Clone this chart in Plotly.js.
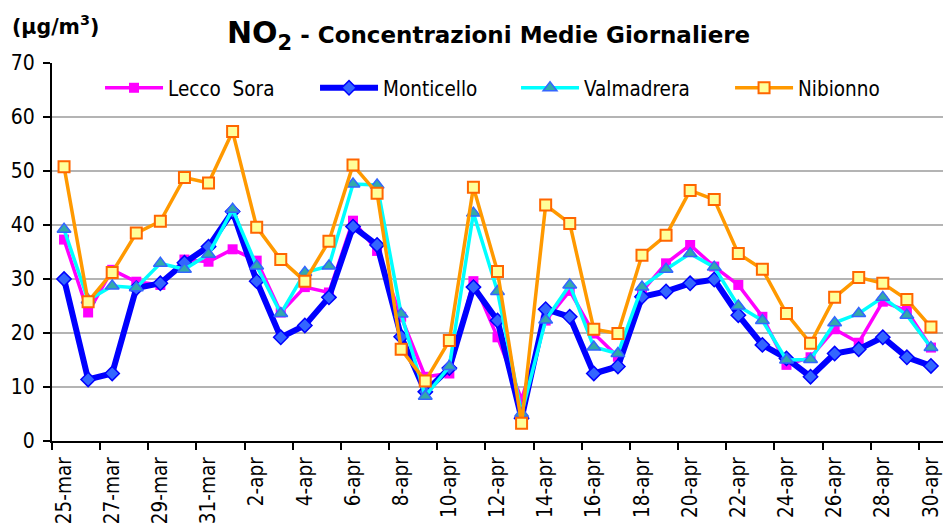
<!DOCTYPE html>
<html>
<head>
<meta charset="utf-8">
<script src="https://cdn.plot.ly/plotly-3.0.1.min.js"></script>
<style>html,body{margin:0;padding:0;background:#fff;}#chart{width:943px;height:525px;}</style>
</head>
<body>
<div id="chart"></div>
<script>
const days = ["25-mar","26-mar","27-mar","28-mar","29-mar","30-mar","31-mar","1-apr","2-apr","3-apr","4-apr","5-apr","6-apr","7-apr","8-apr","9-apr","10-apr","11-apr","12-apr","13-apr","14-apr","15-apr","16-apr","17-apr","18-apr","19-apr","20-apr","21-apr","22-apr","23-apr","24-apr","25-apr","26-apr","27-apr","28-apr","29-apr","30-apr"];
const leccoSora = [37.3,23.8,31.7,29.5,28.9,33.6,33.2,35.5,33.4,23.8,28.5,27.5,40.8,35.2,23.0,11.9,12.5,29.6,19.2,7.7,22.3,27.8,19.9,15.6,27.7,32.9,36.3,32.3,28.9,23.0,14.1,15.5,20.7,18.2,25.8,24.1,17.3];
const monticello = [30.0,11.4,12.5,28.3,29.2,33.0,36.0,42.5,29.6,19.2,21.4,26.6,39.7,36.3,19.3,9.1,13.5,28.5,22.3,4.2,24.4,23.0,12.5,13.8,26.7,27.7,29.2,29.9,23.3,17.8,15.3,11.9,16.2,17.0,19.2,15.5,13.9];
const valmadrera = [39.2,26.1,28.7,28.4,32.9,31.8,34.6,42.9,32.4,23.6,31.2,32.4,47.6,47.4,23.5,8.3,13.8,42.2,27.7,5.1,22.4,28.9,17.4,16.2,28.5,31.8,34.7,32.2,25.0,22.3,15.0,15.1,21.9,23.6,26.6,23.3,17.3];
const nibionno = [50.8,25.8,31.2,38.5,40.7,48.8,47.8,57.3,39.6,33.6,29.6,37.0,51.1,45.9,17.0,11.1,18.6,47.0,31.4,3.3,43.7,40.3,20.7,19.9,34.4,38.1,46.4,44.7,34.7,31.8,23.6,18.1,26.6,30.3,29.2,26.2,21.1];

const FONT = "DejaVu Sans Condensed, DejaVu Sans, sans-serif";
const FONT_BOLD = "DejaVu Sans, sans-serif";

const traces = [
  {name: "Lecco  Sora", x: days, y: leccoSora, type: "scatter", mode: "lines+markers", legend: "legend",
   line: {color: "#FF00FF", width: 3.5},
   marker: {symbol: "square", size: 10, color: "#FF00FF", line: {width: 0}}},
  {name: "Monticello", x: days, y: monticello, type: "scatter", mode: "lines+markers", legend: "legend2",
   line: {color: "#0000FF", width: 6},
   marker: {symbol: "diamond", size: 11, color: "#3366FF", line: {color: "#0000FF", width: 1.5}}},
  {name: "Valmadrera", x: days, y: valmadrera, type: "scatter", mode: "lines+markers", legend: "legend3",
   line: {color: "#00FFFF", width: 3.5},
   marker: {symbol: "triangle-up", size: 12, color: "#33AAAA", line: {color: "#3366FF", width: 1.5}}},
  {name: "Nibionno", x: days, y: nibionno, type: "scatter", mode: "lines+markers", legend: "legend4",
   line: {color: "#FF9900", width: 3.5},
   marker: {symbol: "square", size: 11, color: "#FFFF99", line: {color: "#FF6600", width: 2}}}
];

const legBase = {orientation: "h", yanchor: "middle", y: 0.934, xanchor: "left", bgcolor: "rgba(0,0,0,0)",
  borderwidth: 0, itemwidth: 58, font: {family: FONT, size: 20.5, color: "#000"}};

const layout = {
  width: 943, height: 525,
  margin: {l: 52, r: 0, t: 63, b: 84, pad: 0},
  paper_bgcolor: "#fff", plot_bgcolor: "#fff",
  font: {family: FONT, color: "#000"},
  title: {
    text: '<span style="font-size:30px">NO<sub>2</sub></span> - Concentrazioni Medie Giornaliere',
    font: {family: FONT_BOLD, size: 23, color: "#000", weight: "bold"},
    xref: "paper", x: 0.49, xanchor: "center",
    yref: "container", y: 0.933, yanchor: "middle"
  },
  xaxis: {
    type: "category", range: [-0.5, 36.5], tickson: "boundaries", tick0: 0, dtick: 2,
    ticks: "outside", ticklen: 7, tickwidth: 2, tickcolor: "#000",
    showline: true, linecolor: "#000", linewidth: 2, showgrid: false, ticklabelstandoff: 6,
    tickangle: -90, tickfont: {family: FONT, size: 20.5, color: "#000"}, fixedrange: true
  },
  yaxis: {
    range: [0, 70], dtick: 10, ticks: "outside", ticklen: 7, tickwidth: 2, tickcolor: "#000",
    showline: true, linecolor: "#000", linewidth: 2, showgrid: true, gridcolor: "#b4b4b4", gridwidth: 1.5,
    zeroline: false, tickfont: {family: FONT, size: 21, color: "#000"}, ticklabelstandoff: 4
  },
  showlegend: true,
  legend: Object.assign({}, legBase, {x: 0.0539}),
  legend2: Object.assign({}, legBase, {x: 0.2952}),
  legend3: Object.assign({}, legBase, {x: 0.5208}),
  legend4: Object.assign({}, legBase, {x: 0.761}),
  annotations: [{
    text: "(μg/m<sup>3</sup>)", xref: "paper", yref: "paper", x: -0.047, y: 1.10,
    xanchor: "left", yanchor: "middle", showarrow: false,
    font: {family: FONT_BOLD, size: 20.5, color: "#000", weight: "bold"}
  }]
};

Plotly.newPlot("chart", traces, layout, {displayModeBar: false, staticPlot: true});
</script>
</body>
</html>
